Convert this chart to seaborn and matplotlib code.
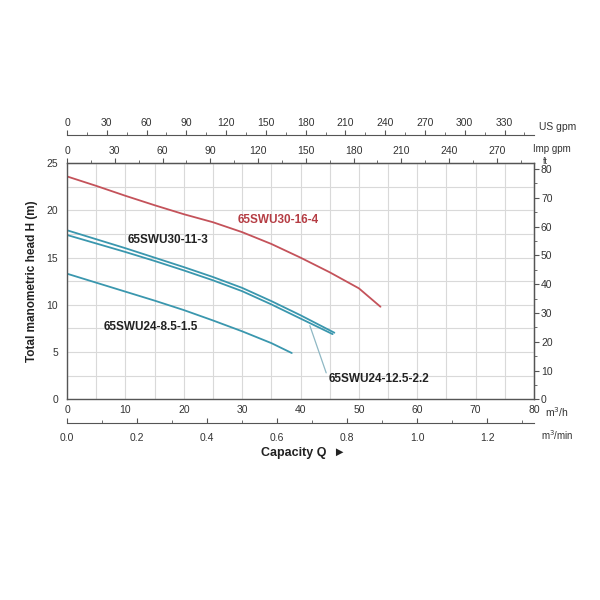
import pandas as pd
import matplotlib
matplotlib.use('Agg')
import matplotlib.pyplot as plt
import seaborn as sns
from matplotlib.ticker import FixedLocator, MultipleLocator

# curves: capacity in m3/h, head in m
q_16_4 = [0, 5, 10, 15, 20, 25, 30, 35, 40, 45, 50, 53.7]
h_16_4 = [23.6, 22.6, 21.55, 20.55, 19.6, 18.75, 17.7, 16.45, 15.0, 13.45, 11.75, 9.8]

q_11_3 = [0, 5, 10, 15, 20, 25, 30, 35, 40, 45.8]
h_11_3 = [17.9, 16.95, 16.0, 15.0, 14.0, 12.95, 11.8, 10.4, 8.9, 7.05]

q_12_5 = [0, 5, 10, 15, 20, 25, 30, 35, 40, 45.5]
h_12_5 = [17.4, 16.5, 15.6, 14.65, 13.65, 12.6, 11.45, 10.05, 8.55, 6.9]

q_8_5 = [0, 5, 10, 15, 20, 25, 30, 35, 38.5]
h_8_5 = [13.3, 12.35, 11.4, 10.45, 9.45, 8.35, 7.2, 5.95, 4.9]

models = ['65SWU30-16-4', '65SWU30-11-3', '65SWU24-12.5-2.2', '65SWU24-8.5-1.5']

# secondary scale ticks
us_ticks = [0, 30, 60, 90, 120, 150, 180, 210, 240, 270, 300, 330]
imp_ticks = [0, 30, 60, 90, 120, 150, 180, 210, 240, 270]
min_ticks = [0.0, 0.2, 0.4, 0.6, 0.8, 1.0, 1.2]
min_labels = ['0.0', '0.2', '0.4', '0.6', '0.8', '1.0', '1.2']
ft_ticks = [0, 10, 20, 30, 40, 50, 60, 70, 80]

rows = []
for name, qs, hs in zip(models, [q_16_4, q_11_3, q_12_5, q_8_5], [h_16_4, h_11_3, h_12_5, h_8_5]):
    for q, h in zip(qs, hs):
        rows.append({'model': name, 'Q': q, 'H': h})
df = pd.DataFrame(rows)

red = '#c4525a'
teal = '#3a97ae'
palette = {models[0]: red, models[1]: teal, models[2]: teal, models[3]: teal}

sns.set_style('white')
plt.rcParams['font.family'] = ['Liberation Sans', 'DejaVu Sans']
axis_col = '#555555'
lab_col = '#333333'

fig = plt.figure(figsize=(6, 6), dpi=100)
ax = fig.add_axes([0.1117, 0.3345, 0.7783, 0.3935])

sns.lineplot(data=df, x='Q', y='H', hue='model', palette=palette, units='model',
             estimator=None, sort=False, linewidth=1.3, legend=False, ax=ax)

ax.set_xlim(0, 80)
ax.set_ylim(0, 25)
ax.xaxis.set_major_locator(MultipleLocator(10))
ax.xaxis.set_minor_locator(MultipleLocator(5))
ax.yaxis.set_major_locator(MultipleLocator(5))
ax.yaxis.set_minor_locator(MultipleLocator(2.5))
ax.grid(True, which='both', color='#d9d9d9', linewidth=0.8)
ax.set_axisbelow(True)
ax.set_xlabel('')
ax.set_ylabel('')
for s in ax.spines.values():
    s.set_color(axis_col)
    s.set_linewidth(1.0)
ax.tick_params(which='both', direction='inout', colors=axis_col, labelcolor=lab_col, labelsize=7.5)
ax.tick_params(which='major', length=6)
ax.tick_params(which='minor', length=3)
ax.tick_params(axis='x', pad=1)


def sec_style(sax):
    sax.tick_params(which='both', colors=axis_col, labelcolor=lab_col, labelsize=7.5)
    sax.tick_params(which='major', length=3.5, pad=1.5)
    sax.tick_params(which='minor', length=2)
    for s in sax.spines.values():
        s.set_color(axis_col)


# Imp gpm on top spine
imp = ax.secondary_xaxis('top', functions=(lambda q: q * 3.6662, lambda g: g / 3.6662))
imp.set_xticks(imp_ticks)
imp.xaxis.set_minor_locator(FixedLocator([t + 15 for t in imp_ticks]))
sec_style(imp)

# US gpm floating above
us = ax.secondary_xaxis(1.118, functions=(lambda q: q * 4.4029, lambda g: g / 4.4029))
us.set_xticks(us_ticks)
us.xaxis.set_minor_locator(FixedLocator([t + 15 for t in us_ticks]))
sec_style(us)

# m3/min below
mmin = ax.secondary_xaxis(-0.1, functions=(lambda q: q / 60.0, lambda m: m * 60.0))
mmin.set_xticks(min_ticks, min_labels)
mmin.xaxis.set_minor_locator(FixedLocator([t + 0.1 for t in min_ticks]))
sec_style(mmin)
mmin.tick_params(which='both', direction='in')
mmin.tick_params(axis='x', pad=7)

# ft on the right
ft = ax.secondary_yaxis('right', functions=(lambda m: m * 3.28084, lambda f: f / 3.28084))
ft.set_yticks(ft_ticks)
ft.yaxis.set_minor_locator(FixedLocator([t + 5 for t in ft_ticks[:-1]]))
sec_style(ft)

# curve labels
ax.text(29.3, 19.0, '65SWU30-16-4', color='#b53d44', fontsize=8.5, fontweight='bold', va='center')
ax.text(10.3, 16.9, '65SWU30-11-3', color='#222222', fontsize=8.5, fontweight='bold', va='center')
ax.text(6.2, 7.7, '65SWU24-8.5-1.5', color='#222222', fontsize=8.5, fontweight='bold', va='center')
ax.text(44.8, 2.1, '65SWU24-12.5-2.2', color='#222222', fontsize=8.5, fontweight='bold', va='center')
ax.plot([44.4, 41.6], [2.8, 7.8], color='#8fb8c4', linewidth=0.9)

# unit labels and titles
fig.text(0.898, 0.788, 'US gpm', fontsize=7.5, color=lab_col, va='center')
fig.text(0.888, 0.752, 'Imp gpm', fontsize=7, color=lab_col, va='center')
fig.text(0.905, 0.731, 'ft', fontsize=6.5, color=lab_col, va='center')
fig.text(0.908, 0.313, 'm$^3$/h', fontsize=7.5, color=lab_col, va='center')
fig.text(0.902, 0.274, 'm$^3$/min', fontsize=7, color=lab_col, va='center')
fig.text(0.505, 0.245, 'Capacity Q  \u25ba', fontsize=9, fontweight='bold', color='#222222',
         ha='center', va='center')
fig.text(0.053, 0.532, 'Total manometric head H (m)', fontsize=8.5, fontweight='bold',
         color='#222222', rotation=90, ha='center', va='center')

fig.savefig('out.png', dpi=100, facecolor='white')
